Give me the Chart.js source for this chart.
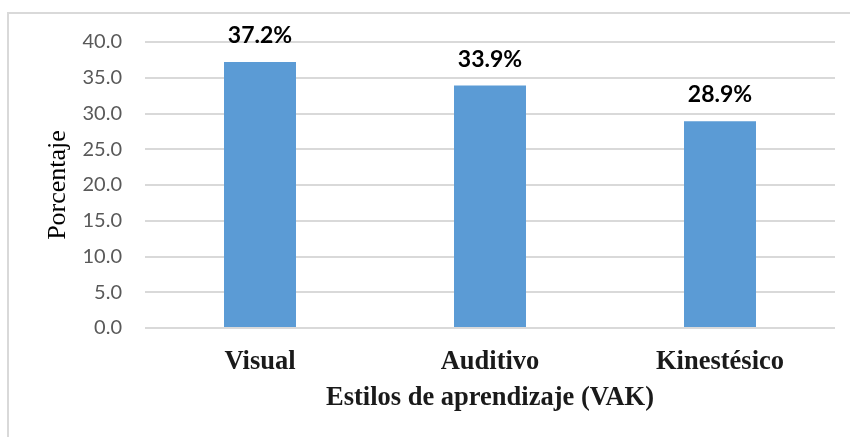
<!DOCTYPE html>
<html lang="es">
<head>
<meta charset="UTF-8">
<title>Estilos de aprendizaje (VAK)</title>
<script src="https://cdn.jsdelivr.net/npm/chart.js"></script>
<style>
  body { margin: 0; background: #fff; }
  #caja { width: 850px; height: 437px; position: relative; }
</style>
</head>
<body>
<div id="caja">
  <canvas id="grafico" width="850" height="437"></canvas>
</div>

<script>
// datos
const estilos = ['Visual', 'Auditivo', 'Kinestésico'];
const porcentajes = [37.2, 33.9, 28.9];
const marcasY = [0, 5, 10, 15, 20, 25, 30, 35, 40];

// marco gris claro del grafico
const marco = {
  id: 'marco',
  beforeDraw(chart) {
    const c = chart.ctx;
    c.save();
    c.strokeStyle = '#d9d9d9';
    c.lineWidth = 2;
    c.beginPath();
    c.moveTo(8, 437);
    c.lineTo(8, 13);
    c.lineTo(850, 13);
    c.stroke();
    c.restore();
  }
};

// etiquetas de porcentaje encima de cada barra
const etiquetas = {
  id: 'etiquetas',
  afterDatasetsDraw(chart) {
    const c = chart.ctx;
    const meta = chart.getDatasetMeta(0);
    c.save();
    c.fillStyle = '#000';
    c.font = 'bold 23px Lato';
    c.textAlign = 'center';
    c.textBaseline = 'alphabetic';
    meta.data.forEach((barra, i) => {
      c.fillText(porcentajes[i].toFixed(1) + '%', barra.x, barra.y - 19);
    });
    c.restore();
  }
};

const ctx = document.getElementById('grafico').getContext('2d');
new Chart(ctx, {
  type: 'bar',
  data: {
    labels: estilos,
    datasets: [{
      data: porcentajes,
      backgroundColor: '#5b9bd5',
      borderWidth: 0,
      categoryPercentage: 1,
      barPercentage: 0.313
    }]
  },
  options: {
    responsive: false,
    animation: false,
    layout: { padding: { left: 43, right: 15, top: 42, bottom: 23 } },
    plugins: {
      legend: { display: false },
      tooltip: { enabled: false }
    },
    scales: {
      x: {
        afterFit(axis) { axis.height = 86; },
        grid: { display: false },
        border: { display: false },
        ticks: {
          color: '#1a1a1a',
          padding: 10,
          font: { family: 'Liberation Serif', size: 26.5, weight: 'bold' }
        },
        title: {
          display: true,
          text: 'Estilos de aprendizaje (VAK)',
          color: '#1a1a1a',
          padding: { top: 0, bottom: 0 },
          font: { family: 'Liberation Serif', size: 26.5, weight: 'bold' }
        }
      },
      y: {
        min: 0,
        max: 40,
        afterBuildTicks(axis) {
          axis.ticks = marcasY.map(v => ({ value: v }));
        },
        afterFit(axis) { axis.width = 102; },
        grid: { color: '#d9d9d9', lineWidth: 2, drawTicks: false },
        border: { display: false },
        ticks: {
          color: '#595959',
          padding: 23,
          font: { family: 'Lato', size: 20 },
          callback: v => Number(v).toFixed(1)
        },
        title: {
          display: true,
          text: 'Porcentaje',
          color: '#000',
          padding: { top: 0, bottom: 9 },
          font: { family: 'Liberation Serif', size: 26 }
        }
      }
    }
  },
  plugins: [marco, etiquetas]
});
</script>
</body>
</html>
